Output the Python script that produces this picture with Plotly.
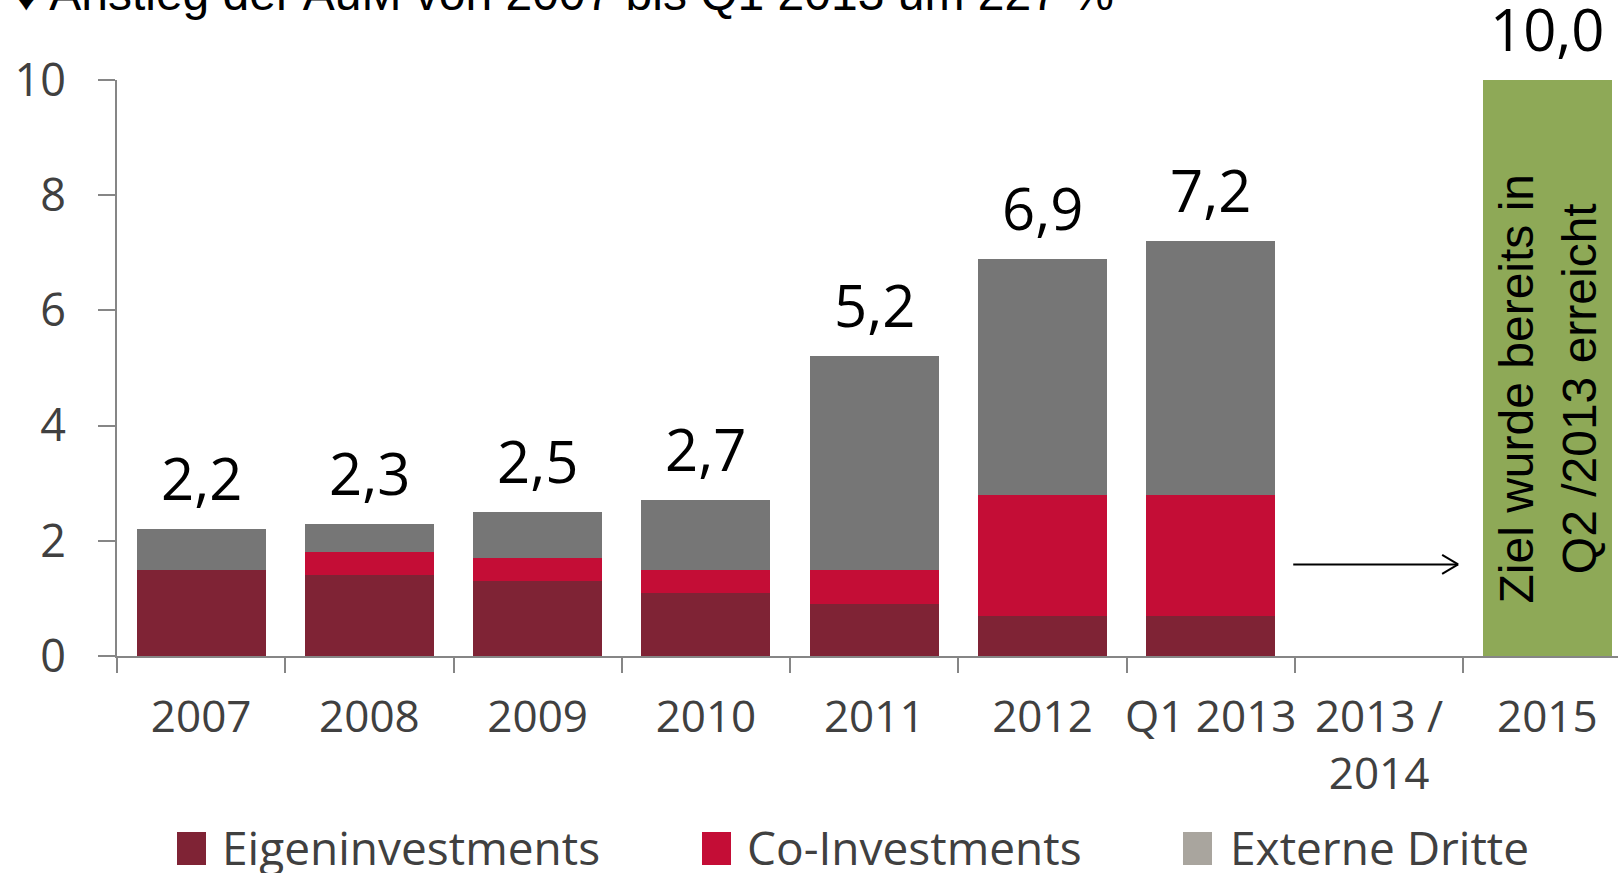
import plotly.graph_objects as go

# ---------------- data ----------------
categories = ["2007", "2008", "2009", "2010", "2011", "2012", "Q1 2013", "2013 /<br>2014", "2015"]
bar_categories = ["2007", "2008", "2009", "2010", "2011", "2012", "Q1 2013"]
eigen = [1.5, 1.4, 1.3, 1.1, 0.9, 0.7, 0.7]
co_inv = [0.0, 0.4, 0.4, 0.4, 0.6, 2.1, 2.1]
extern = [0.7, 0.5, 0.8, 1.2, 3.7, 4.1, 4.4]
target_category = ["2015"]
target_value = [10.0]
legend_labels = ["Eigeninvestments", "Co-Investments", "Externe Dritte"]
y_ticks = [0, 2, 4, 6, 8, 10]
title_text = "\u2666 Anstieg der AuM von 2007 bis Q1 2013 um 227 %"
target_note = "Ziel wurde bereits in<br>Q2 /2013 erreicht"

# ---------------- style ----------------
C_EIGEN = "#7F2335"
C_CO = "#C40D36"
C_EXT = "#767676"
C_EXT_LEG = "#A9A59E"
C_GREEN = "#8EA957"
AXIS = "#868686"
TXT = "#404040"
W, H = 1618, 873
ML, MR, MT, MB = 117, 0, 80, 217
PW, PH = W - ML - MR, H - MT - MB


def px_x(p):
    return (p - ML) / PW


def px_y(p):
    return (H - MB - p) / PH


def cat_idx(c):
    return categories.index(c)


fig = go.Figure()
fig.add_trace(go.Bar(x=bar_categories, y=eigen, name=legend_labels[0], marker=dict(color=C_EIGEN, line=dict(width=0)), showlegend=False))
fig.add_trace(go.Bar(x=bar_categories, y=co_inv, name=legend_labels[1], marker=dict(color=C_CO, line=dict(width=0)), showlegend=False))
fig.add_trace(go.Bar(x=bar_categories, y=extern, name=legend_labels[2], marker=dict(color=C_EXT, line=dict(width=0)), showlegend=False))
fig.add_trace(go.Bar(x=target_category, y=target_value, name="Ziel", marker=dict(color=C_GREEN, line=dict(width=0)), showlegend=False))

annotations = []
totals = [round(a + b + c, 1) for a, b, c in zip(eigen, co_inv, extern)]
for cat, t in zip(bar_categories + target_category, totals + target_value):
    annotations.append(dict(x=cat_idx(cat), y=t, xref="x", yref="y", text=f"{t:.1f}".replace(".", ","),
                            showarrow=False, yanchor="bottom", yshift=10,
                            font=dict(family="Open Sans", size=58, color="black")))

# note inside the target bar
annotations.append(dict(x=cat_idx(target_category[0]), y=4.65, xref="x", yref="y", text=target_note, textangle=-90,
                        showarrow=False, align="center",
                        font=dict(family="Liberation Sans, Arial", size=48, color="black")))

# title (cut at top)
annotations.append(dict(x=px_x(12), y=px_y(22), xref="paper", yref="paper", text=title_text,
                        showarrow=False, xanchor="left", yanchor="bottom",
                        font=dict(family="Liberation Sans, Arial", size=48, color="black")))

# custom legend
legend_pos = [(177, 220), (702, 745), (1183, 1228)]
legend_cols = [C_EIGEN, C_CO, C_EXT_LEG]
shapes = []
for (sx, tx), lab, col in zip(legend_pos, legend_labels, legend_cols):
    shapes.append(dict(type="rect", xref="paper", yref="paper", x0=px_x(sx), x1=px_x(sx + 29),
                       y0=px_y(865), y1=px_y(832), fillcolor=col, line=dict(width=0)))
    annotations.append(dict(x=px_x(tx), y=px_y(847), xref="paper", yref="paper", text=lab,
                            showarrow=False, xanchor="left", yanchor="middle",
                            font=dict(family="Open Sans", size=46, color=TXT)))

# arrow from Q1 2013 towards 2015
ARROW_X0, ARROW_X1, ARROW_Y = 6.49, 7.47, 1.59
HEAD_DX, HEAD_DY = 0.095, 0.165
for x0, y0, x1, y1 in [(ARROW_X0, ARROW_Y, ARROW_X1, ARROW_Y),
                       (ARROW_X1 - HEAD_DX, ARROW_Y + HEAD_DY, ARROW_X1, ARROW_Y),
                       (ARROW_X1 - HEAD_DX, ARROW_Y - HEAD_DY, ARROW_X1, ARROW_Y)]:
    shapes.append(dict(type="line", xref="x", yref="y", x0=x0, y0=y0, x1=x1, y1=y1,
                       line=dict(color="black", width=2)))

fig.update_layout(
    width=W, height=H,
    margin=dict(l=ML, r=MR, t=MT, b=MB, pad=0, autoexpand=False),
    barmode="stack", bargap=0.233,
    plot_bgcolor="white", paper_bgcolor="white",
    showlegend=False,
    annotations=annotations, shapes=shapes,
    xaxis=dict(type="category", categoryorder="array", categoryarray=categories,
               range=[-0.5, 8.42], showline=True, linecolor=AXIS, linewidth=2,
               ticks="outside", tickson="boundaries", ticklen=15, tickwidth=2, tickcolor=AXIS,
               showgrid=False, zeroline=False, ticklabelstandoff=21, tickangle=0, automargin=False,
               tickfont=dict(family="Open Sans", size=44, color=TXT)),
    yaxis=dict(range=[0, 10], tickvals=y_ticks, showline=True, linecolor=AXIS, linewidth=2,
               ticks="outside", ticklen=17, tickwidth=2, tickcolor=AXIS, automargin=False,
               showgrid=False, zeroline=False, ticklabelstandoff=23,
               tickfont=dict(family="Open Sans", size=45, color=TXT)),
)

fig.write_html("out.html", config={"displayModeBar": False},
               post_script="document.body.style.margin='0';document.body.style.overflow='hidden';")
